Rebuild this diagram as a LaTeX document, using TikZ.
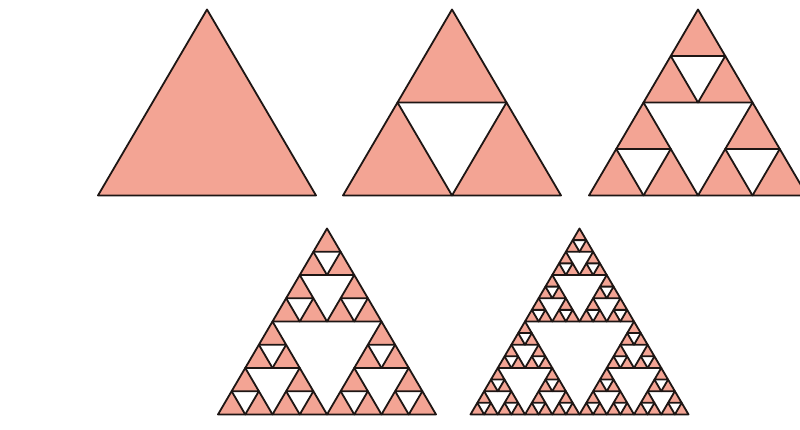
\documentclass[tikz,border=0pt]{standalone}
\definecolor{salmonfill}{RGB}{243,164,148}
\definecolor{edge}{RGB}{30,22,20}
\tikzset{tri/.style={fill=salmonfill,draw=edge,line width=1.8pt,line join=round}}
\newcommand\sierp[1]{%
  \ifnum#1=0
    \filldraw[tri] (0,0) -- (-0.5,0.853) -- (0.5,0.853) -- cycle;
  \else
    \begin{scope}[scale=0.5]\expandafter\sierp\expandafter{\the\numexpr#1-1\relax}\end{scope}%
    \begin{scope}[shift={(-0.25,0.4265)},scale=0.5]\expandafter\sierp\expandafter{\the\numexpr#1-1\relax}\end{scope}%
    \begin{scope}[shift={(0.25,0.4265)},scale=0.5]\expandafter\sierp\expandafter{\the\numexpr#1-1\relax}\end{scope}%
  \fi}
\begin{document}
\begin{tikzpicture}[x=1pt,y=-1pt]
\useasboundingbox[fill=white] (0,0) rectangle (800,430);
\clip (0,0) rectangle (800,430);
\begin{scope}[shift={(207,9.5)},x=218pt,y=-218pt]\sierp{0}\end{scope}
\begin{scope}[shift={(452,9.5)},x=218pt,y=-218pt]\sierp{1}\end{scope}
\begin{scope}[shift={(698,9.5)},x=218pt,y=-218pt]\sierp{2}\end{scope}
\begin{scope}[shift={(327,228.5)},x=218pt,y=-218pt]\sierp{3}\end{scope}
\begin{scope}[shift={(579.5,228.5)},x=218pt,y=-218pt]\sierp{4}\end{scope}
\end{tikzpicture}
\end{document}
